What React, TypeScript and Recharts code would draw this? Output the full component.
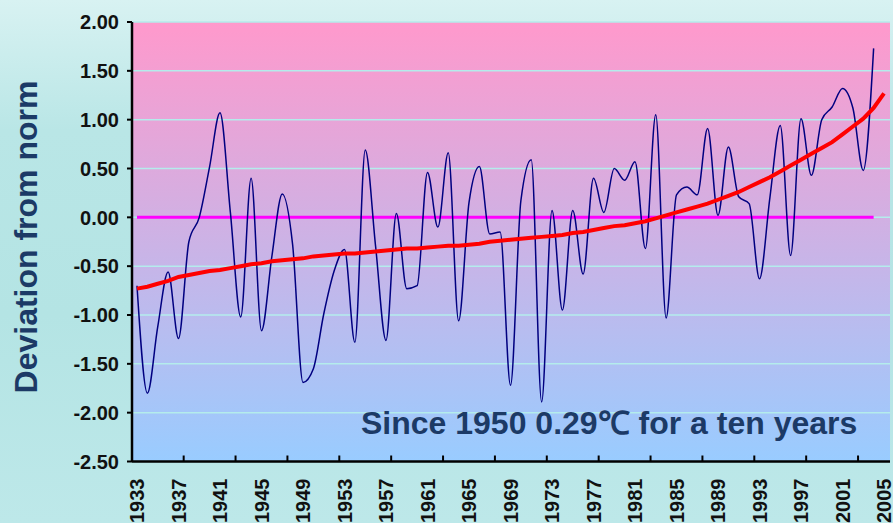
import React from 'react';
import { LineChart, Line, XAxis, YAxis, CartesianGrid, ReferenceLine } from 'recharts';

const years = [
  '1933','1934','1935','1936','1937','1938','1939','1940','1941','1942',
  '1943','1944','1945','1946','1947','1948','1949','1950','1951','1952',
  '1953','1954','1955','1956','1957','1958','1959','1960','1961','1962',
  '1963','1964','1965','1966','1967','1968','1969','1970','1971','1972',
  '1973','1974','1975','1976','1977','1978','1979','1980','1981','1982',
  '1983','1984','1985','1986','1987','1988','1989','1990','1991','1992',
  '1993','1994','1995','1996','1997','1998','1999','2000','2001','2002',
  '2003','2004','2005',
];

// Observed deviation (1933-2004)
const deviation = [
  -0.70, -1.80, -1.12, -0.56, -1.24, -0.25, 0.00, 0.52, 1.07, 0.05,
  -1.02, 0.40, -1.16, -0.40, 0.24, -0.28, -1.69, -1.55, -0.99, -0.55,
  -0.33, -1.28, 0.69, -0.30, -1.26, 0.04, -0.73, -0.70, 0.46, -0.10,
  0.66, -1.06, 0.15, 0.52, -0.17, -0.15, -1.72, 0.17, 0.59, -1.89,
  0.07, -0.95, 0.07, -0.58, 0.40, 0.05, 0.50, 0.38, 0.57, -0.32,
  1.05, -1.03, 0.23, 0.31, 0.23, 0.91, 0.02, 0.72, 0.21, 0.14,
  -0.63, 0.20, 0.94, -0.39, 1.01, 0.43, 1.00, 1.13, 1.32, 1.12,
  0.48, 1.73,
];

// Trend curve (1933-2005)
const trend = [
  -0.73, -0.71, -0.68, -0.65, -0.61, -0.59, -0.57, -0.55, -0.54, -0.52,
  -0.50, -0.48, -0.47, -0.45, -0.44, -0.43, -0.42, -0.40, -0.39, -0.38,
  -0.37, -0.37, -0.36, -0.35, -0.34, -0.33, -0.32, -0.32, -0.31, -0.30,
  -0.29, -0.29, -0.28, -0.27, -0.25, -0.24, -0.23, -0.22, -0.21, -0.20,
  -0.19, -0.18, -0.16, -0.15, -0.13, -0.11, -0.09, -0.08, -0.06, -0.04,
  -0.01, 0.02, 0.05, 0.08, 0.11, 0.14, 0.18, 0.22, 0.26, 0.31,
  0.36, 0.41, 0.47, 0.53, 0.59, 0.65, 0.71, 0.77, 0.85, 0.93,
  1.01, 1.12, 1.27,
];

const yTicks = [-2.5, -2, -1.5, -1, -0.5, 0, 0.5, 1, 1.5, 2];
const normStart = '1933';
const normEnd = '2004';
const yTitle = 'Deviation from norm';
const note = 'Since 1950 0.29\u2103 for a ten years';

const data = years.map((year, i) => ({
  year,
  dev: i < deviation.length ? deviation[i] : null,
  trend: trend[i],
}));

const FONT = '"Liberation Sans", Arial, sans-serif';

const XTick = (props: any) => {
  const { x, y, payload } = props;
  const i = payload.index;
  return (
    <g>
      {i % 5 === 0 && i > 0 ? (
        <line x1={x - 5.2} x2={x - 5.2} y1={y} y2={y - 6} stroke="#000" strokeWidth={2} />
      ) : null}
      {i % 4 === 0 ? (
        <text
          transform={`translate(${x},${y + 17}) rotate(-90)`}
          textAnchor="end"
          dy="0.36em"
          fontSize={20}
          fontWeight="bold"
          fontFamily={FONT}
          fill="#111"
        >
          {payload.value}
        </text>
      ) : null}
    </g>
  );
};

const YTick = (props: any) => {
  const { x, y, payload } = props;
  return (
    <text x={x} y={y} dy="0.36em" textAnchor="end" fontSize={20} fontWeight="bold" fontFamily={FONT} fill="#111">
      {Number(payload.value).toFixed(2)}
    </text>
  );
};

export default function App() {
  return (
    <div
      style={{
        position: 'absolute',
        left: 0,
        top: 0,
        width: 893,
        height: 523,
        background: 'linear-gradient(180deg, #d8f2f2 0%, #b9e6e6 25%, #b4e4e4 60%, #bde8e9 100%)',
        overflow: 'hidden',
      }}
    >
      <LineChart
        width={893}
        height={523}
        data={data}
        margin={{ top: 22, right: 3, bottom: 0, left: 0 }}
      >
        <defs>
          <linearGradient id="plotBg" x1="0" y1="0" x2="0" y2="1">
            <stop offset="0%" stopColor="#ff99cc" />
            <stop offset="100%" stopColor="#99ccff" />
          </linearGradient>
        </defs>
        <CartesianGrid vertical={false} stroke="#b4ecec" strokeWidth={1.5} fill="url(#plotBg)" fillOpacity={1} />
        <XAxis
          dataKey="year"
          scale="point"
          padding={{ left: 5, right: 6 }}
          height={61.5}
          interval={0}
          tickLine={false}
          tickSize={0}
          tickMargin={0}
          axisLine={{ stroke: '#000', strokeWidth: 2.5 }}
          tick={<XTick />}
        />
        <YAxis
          type="number"
          domain={[-2.5, 2]}
          ticks={yTicks}
          width={132}
          tickSize={5}
          tickMargin={8}
          axisLine={{ stroke: '#000', strokeWidth: 2.5 }}
          tickLine={{ stroke: '#000', strokeWidth: 2 }}
          tick={<YTick />}
          interval={0}
        />
        <ReferenceLine
          segment={[{ x: normStart, y: 0 }, { x: normEnd, y: 0 }]}
          stroke="#ff00ff"
          strokeWidth={3}
        />
        <Line
          dataKey="dev"
          type="monotone"
          stroke="#000080"
          strokeWidth={1.5}
          dot={false}
          isAnimationActive={false}
        />
        <Line
          dataKey="trend"
          type="linear"
          stroke="#ff0000"
          strokeWidth={4}
          dot={false}
          isAnimationActive={false}
        />
      </LineChart>
      <svg
        width={893}
        height={523}
        style={{ position: 'absolute', left: 0, top: 0, pointerEvents: 'none' }}
      >
        <text
          transform="translate(37,237) rotate(-90)"
          textAnchor="middle"
          fontSize={32}
          fontWeight="bold"
          fontFamily={FONT}
          fill="#1c3a66"
        >
          {yTitle}
        </text>
        <text x={361} y={434} fontSize={32} fontWeight="bold" fontFamily={FONT} fill="#1c3a66">
          {note}
        </text>
      </svg>
    </div>
  );
}
